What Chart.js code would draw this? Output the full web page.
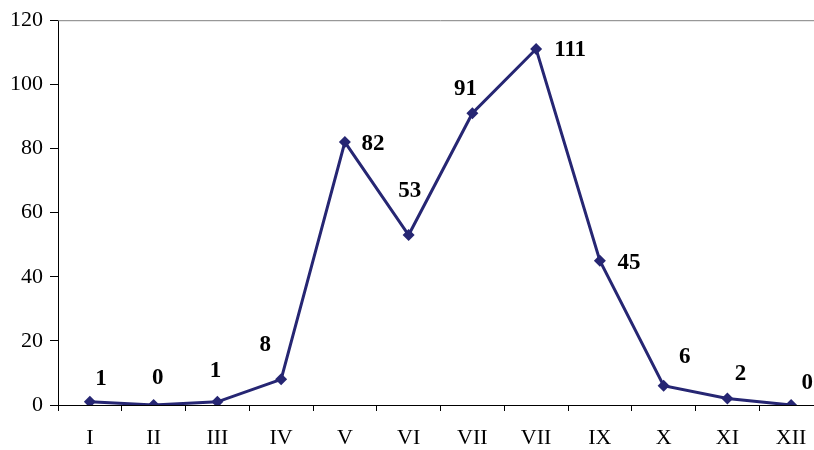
<!DOCTYPE html>
<html>
<head>
<meta charset="utf-8">
<script src="https://cdn.jsdelivr.net/npm/chart.js@4/dist/chart.umd.min.js"></script>
<style>
  html, body { margin: 0; padding: 0; background: #fff; overflow: hidden; font-family: "Liberation Serif", "Times New Roman", serif; }
  #wrap { width: 830px; height: 450px; }
</style>
</head>
<body>
<div id="wrap"><canvas id="grafica" width="830" height="450"></canvas></div>
<script>
// meses (tal como aparecen en el eje)
const meses = ["I", "II", "III", "IV", "V", "VI", "VII", "VII", "IX", "X", "XI", "XII"];
const casos = [1, 0, 1, 8, 82, 53, 91, 111, 45, 6, 2, 0];
const marcasY = [0, 20, 40, 60, 80, 100, 120];

// desplazamiento de cada etiqueta respecto a su punto
const desplaza = [[11, -23], [4, -27], [-2, -31], [-16, -34], [28, 2], [1, -44], [-7, -24], [34, 1], [29, 2], [21, -29], [13, -25], [16, -22]];

const color = "#262673";
const fuente = "'Liberation Serif', 'Times New Roman', serif";

const etiquetas = {
  id: "etiquetas",
  afterDatasetsDraw(chart) {
    const ctx = chart.ctx;
    const meta = chart.getDatasetMeta(0);
    ctx.save();
    ctx.font = "bold 23px " + fuente;
    ctx.fillStyle = "#000";
    ctx.textAlign = "center";
    ctx.textBaseline = "middle";
    meta.data.forEach((p, i) => {
      ctx.fillText(String(casos[i]), p.x + desplaza[i][0], p.y + desplaza[i][1]);
    });
    ctx.restore();
  }
};

// linea superior del area de grafica
const borde = {
  id: "borde",
  beforeDatasetsDraw(chart) {
    const a = chart.chartArea;
    const ctx = chart.ctx;
    ctx.save();
    ctx.strokeStyle = "#808080";
    ctx.lineWidth = 1;
    ctx.beginPath();
    ctx.moveTo(a.left, a.top + 0.5);
    ctx.lineTo(a.right, a.top + 0.5);
    ctx.stroke();
    ctx.restore();
  }
};

function dibujar() {
  new Chart(document.getElementById("grafica").getContext("2d"), {
    type: "line",
    data: {
      labels: meses,
      datasets: [{
        data: casos,
        borderColor: color,
        backgroundColor: color,
        borderWidth: 3,
        pointStyle: "rectRot",
        pointRadius: 6,
        pointBorderWidth: 0,
        tension: 0
      }]
    },
    options: {
      responsive: false,
      animation: false,
      layout: { padding: { top: 17, right: 7, left: 0, bottom: 0 } },
      plugins: { legend: { display: false }, tooltip: { enabled: false } },
      scales: {
        x: {
          offset: true,
          grid: { offset: true, drawOnChartArea: false, tickLength: 6, color: "#000" },
          border: { color: "#000", width: 1 },
          ticks: { color: "#000", font: { family: fuente, size: 22 }, padding: 14, maxRotation: 0, autoSkip: false },
          afterFit(s) { s.height = 45; }
        },
        y: {
          min: 0,
          max: 120,
          afterBuildTicks(s) { s.ticks = marcasY.map(v => ({ value: v })); },
          grid: { drawOnChartArea: false, tickLength: 8, color: "#000" },
          border: { color: "#000", width: 1 },
          ticks: { color: "#000", font: { family: fuente, size: 22 }, padding: 7 },
          afterFit(s) { s.width = 58; }
        }
      }
    },
    plugins: [etiquetas, borde]
  });
}

Promise.all([
  document.fonts.load("22px 'Liberation Serif'"),
  document.fonts.load("bold 23px 'Liberation Serif'")
]).then(dibujar, dibujar);
</script>
</body>
</html>
